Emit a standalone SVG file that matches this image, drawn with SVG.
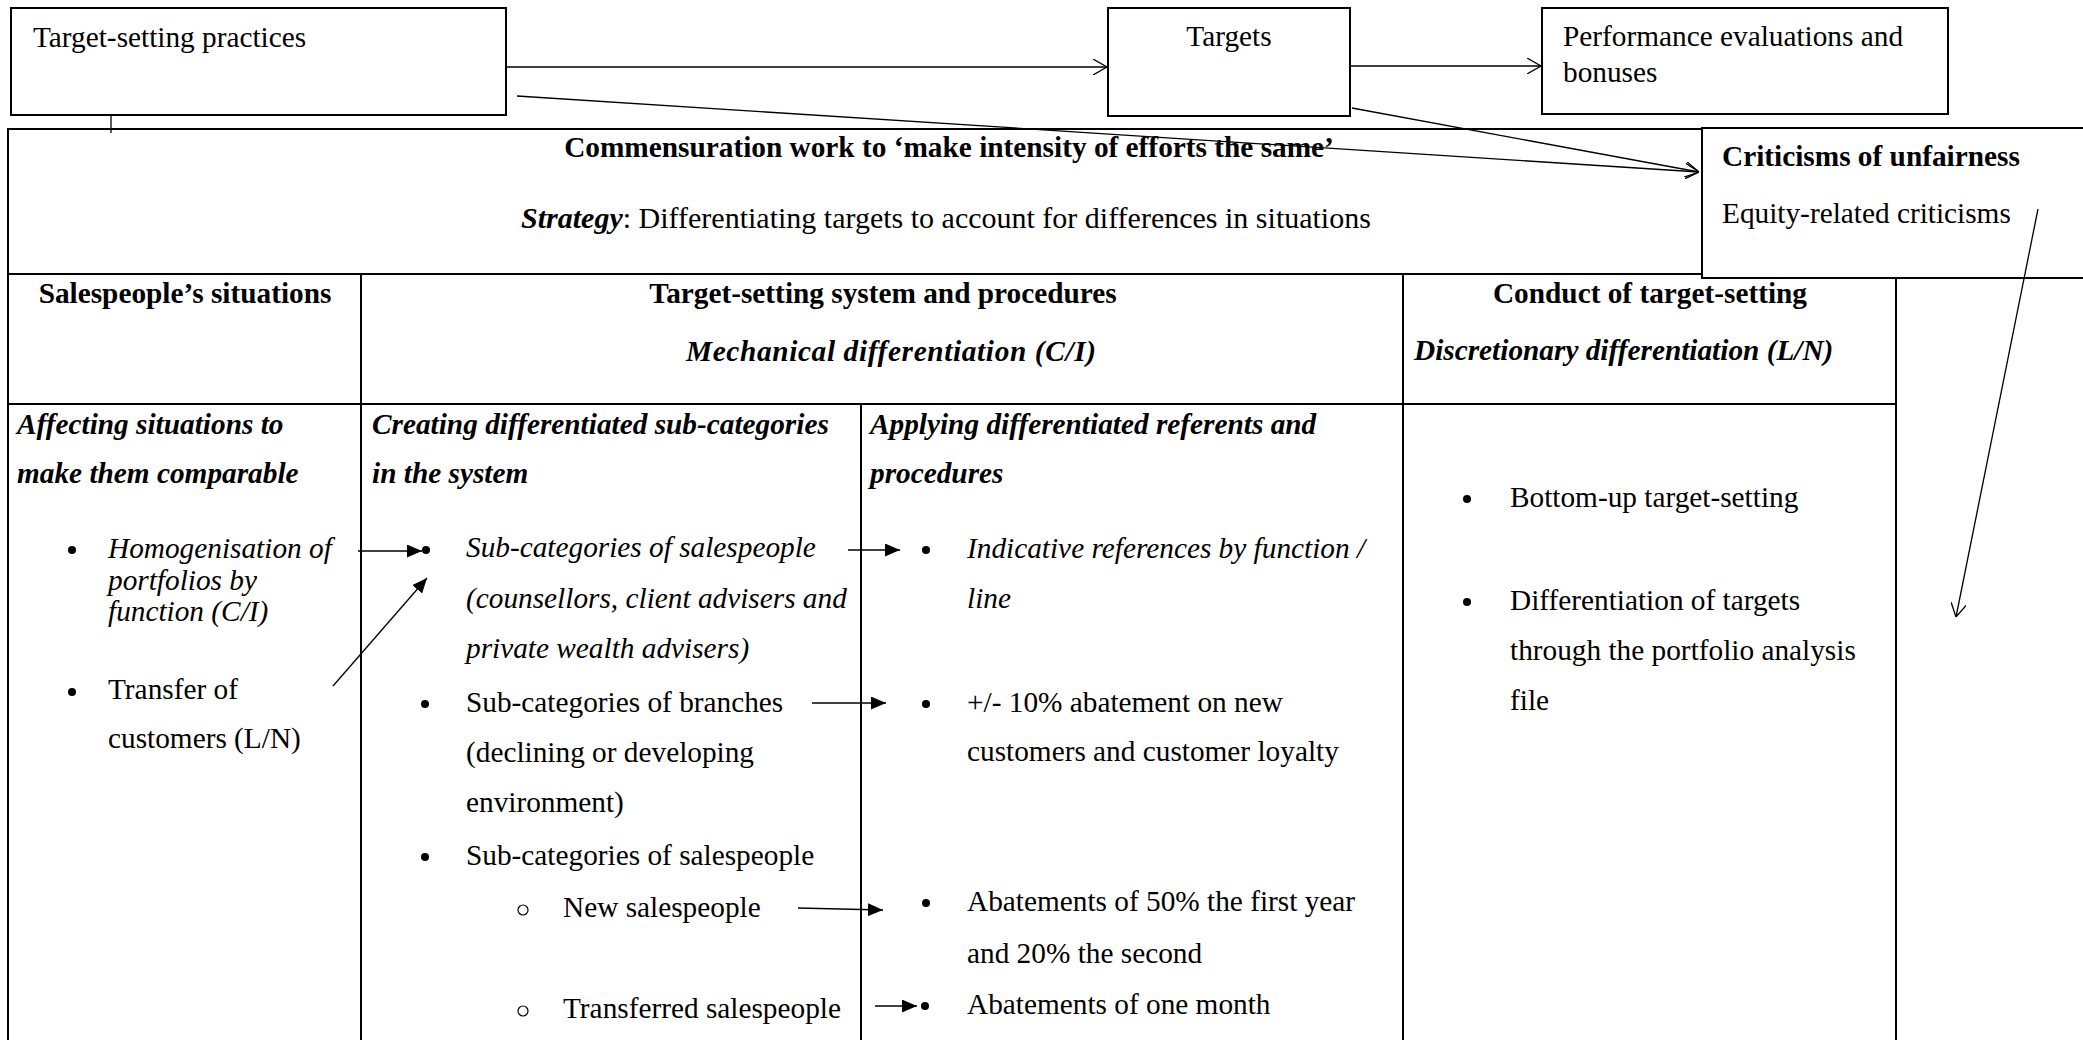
<svg xmlns="http://www.w3.org/2000/svg" width="2083" height="1040" viewBox="0 0 2083 1040">
<defs>
<style>
.t{font-family:'Liberation Serif','Times New Roman',serif;font-size:29.3px;fill:#000}
.b{font-weight:bold}
.i{font-style:italic}
.c{text-anchor:middle}
.dot{fill:#000}
.ring{fill:none;stroke:#000;stroke-width:1.2}
.box{fill:#fff;stroke:#000;stroke-width:2}
.grid{stroke:#000;stroke-width:2;fill:none}
.conn{stroke:#000;stroke-width:1.3;fill:none}
</style>
<marker id="open" viewBox="0 0 14 16" refX="14" refY="8" markerWidth="14" markerHeight="16" orient="auto" markerUnits="userSpaceOnUse"><path d="M0,0 L14,8 L0,16" fill="none" stroke="#000" stroke-width="1.3"/></marker>
<marker id="solid" viewBox="0 0 15 13" refX="15" refY="6.5" markerWidth="15" markerHeight="13" orient="auto" markerUnits="userSpaceOnUse"><path d="M0,0 L15,6.5 L0,13 z" fill="#000"/></marker>
</defs>
<rect width="2083" height="1040" fill="#fff"/>

<g id="table">
<rect class="grid" x="8" y="129" width="1888" height="1000"/>
<line class="grid" x1="8" y1="274" x2="1896" y2="274"/>
<line class="grid" x1="8" y1="404" x2="1896" y2="404"/>
<line class="grid" x1="361" y1="274" x2="361" y2="1040"/>
<line class="grid" x1="1403" y1="274" x2="1403" y2="1040"/>
<line class="grid" x1="861" y1="404" x2="861" y2="1040"/>
</g>

<g id="header">
<text class="t b c" x="949" y="157">Commensuration work to ‘make intensity of efforts the same’</text>
<text class="t c" x="946" y="228" style="font-size:30px"><tspan class="b i">Strategy</tspan>: Differentiating targets to account for differences in situations</text>
</g>

<g id="col-situations">
<text class="t b c" x="185" y="303">Salespeople’s situations</text>
<text class="t b i" x="17" y="434">Affecting situations to</text>
<text class="t b i" x="17" y="483">make them comparable</text>
<circle class="dot" cx="72" cy="550" r="4"/>
<text class="t i" x="108" y="558">Homogenisation of</text>
<text class="t i" x="108" y="590">portfolios by</text>
<text class="t i" x="108" y="621">function (C/I)</text>
<circle class="dot" cx="72" cy="692" r="4"/>
<text class="t" x="108" y="699">Transfer of</text>
<text class="t" x="108" y="748">customers (L/N)</text>
</g>

<g id="col-system">
<text class="t b c" x="883" y="303">Target-setting system and procedures</text>
<text class="t b i" x="686" y="361" textLength="410">Mechanical differentiation (C/I)</text>
</g>

<g id="col-subcategories">
<text class="t b i" x="372" y="434">Creating differentiated sub-categories</text>
<text class="t b i" x="372" y="483">in the system</text>
<circle class="dot" cx="426" cy="550" r="4"/>
<text class="t i" x="466" y="557">Sub-categories of salespeople</text>
<text class="t i" x="466" y="608">(counsellors, client advisers and</text>
<text class="t i" x="466" y="658">private wealth advisers)</text>
<circle class="dot" cx="425" cy="704" r="4"/>
<text class="t" x="466" y="712">Sub-categories of branches</text>
<text class="t" x="466" y="762">(declining or developing</text>
<text class="t" x="466" y="812">environment)</text>
<circle class="dot" cx="425" cy="857" r="4"/>
<text class="t" x="466" y="865">Sub-categories of salespeople</text>
<circle class="ring" cx="523" cy="910" r="5"/>
<text class="t" x="563" y="917">New salespeople</text>
<circle class="ring" cx="523" cy="1011" r="5"/>
<text class="t" x="563" y="1018">Transferred salespeople</text>
</g>

<g id="col-referents">
<text class="t b i" x="870" y="434">Applying differentiated referents and</text>
<text class="t b i" x="870" y="483">procedures</text>
<circle class="dot" cx="926" cy="550" r="4"/>
<text class="t i" x="967" y="558">Indicative references by function /</text>
<text class="t i" x="967" y="608">line</text>
<circle class="dot" cx="926" cy="704" r="4"/>
<text class="t" x="967" y="712">+/- 10% abatement on new</text>
<text class="t" x="967" y="761">customers and customer loyalty</text>
<circle class="dot" cx="926" cy="903" r="4"/>
<text class="t" x="967" y="911">Abatements of 50% the first year</text>
<text class="t" x="967" y="963">and 20% the second</text>
<circle class="dot" cx="925" cy="1006" r="4"/>
<text class="t" x="967" y="1014">Abatements of one month</text>
</g>

<g id="col-conduct">
<text class="t b c" x="1650" y="303">Conduct of target-setting</text>
<text class="t b i" x="1414" y="360">Discretionary differentiation (L/N)</text>
<circle class="dot" cx="1467" cy="499" r="4"/>
<text class="t" x="1510" y="507">Bottom-up target-setting</text>
<circle class="dot" cx="1467" cy="602" r="4"/>
<text class="t" x="1510" y="610">Differentiation of targets</text>
<text class="t" x="1510" y="660">through the portfolio analysis</text>
<text class="t" x="1510" y="710">file</text>
</g>

<g id="node-practices">
<rect class="box" x="11" y="8" width="495" height="107"/>
<text class="t" x="33" y="47">Target-setting practices</text>
</g>

<g id="node-targets">
<rect class="box" x="1108" y="8" width="242" height="108"/>
<text class="t c" x="1229" y="46">Targets</text>
</g>

<g id="node-performance">
<rect class="box" x="1542" y="8" width="406" height="106"/>
<text class="t" x="1563" y="46">Performance evaluations and</text>
<text class="t" x="1563" y="82">bonuses</text>
</g>

<g id="node-criticisms">
<rect class="box" x="1702" y="128" width="400" height="150"/>
<text class="t b" x="1722" y="166">Criticisms of unfairness</text>
<text class="t" x="1722" y="223">Equity-related criticisms</text>
</g>

<g id="connectors">
<line class="conn" x1="111" y1="115" x2="111" y2="133"/>
<line class="conn" x1="506" y1="67" x2="1107" y2="67" marker-end="url(#open)"/>
<line class="conn" x1="1350" y1="66" x2="1541" y2="66" marker-end="url(#open)"/>
<line class="conn" x1="517" y1="96" x2="1699" y2="172" marker-end="url(#open)"/>
<line class="conn" x1="1352" y1="108" x2="1699" y2="172" marker-end="url(#open)"/>
<line class="conn" x1="2038" y1="209" x2="1956" y2="617" marker-end="url(#open)"/>
<line class="conn" x1="358" y1="551" x2="422" y2="551" marker-end="url(#solid)"/>
<line class="conn" x1="333" y1="686" x2="427" y2="578" marker-end="url(#solid)"/>
<line class="conn" x1="848" y1="550" x2="900" y2="550" marker-end="url(#solid)"/>
<line class="conn" x1="812" y1="703" x2="886" y2="703" marker-end="url(#solid)"/>
<line class="conn" x1="798" y1="908" x2="883" y2="910" marker-end="url(#solid)"/>
<line class="conn" x1="875" y1="1006" x2="917" y2="1006" marker-end="url(#solid)"/>
</g>
</svg>
